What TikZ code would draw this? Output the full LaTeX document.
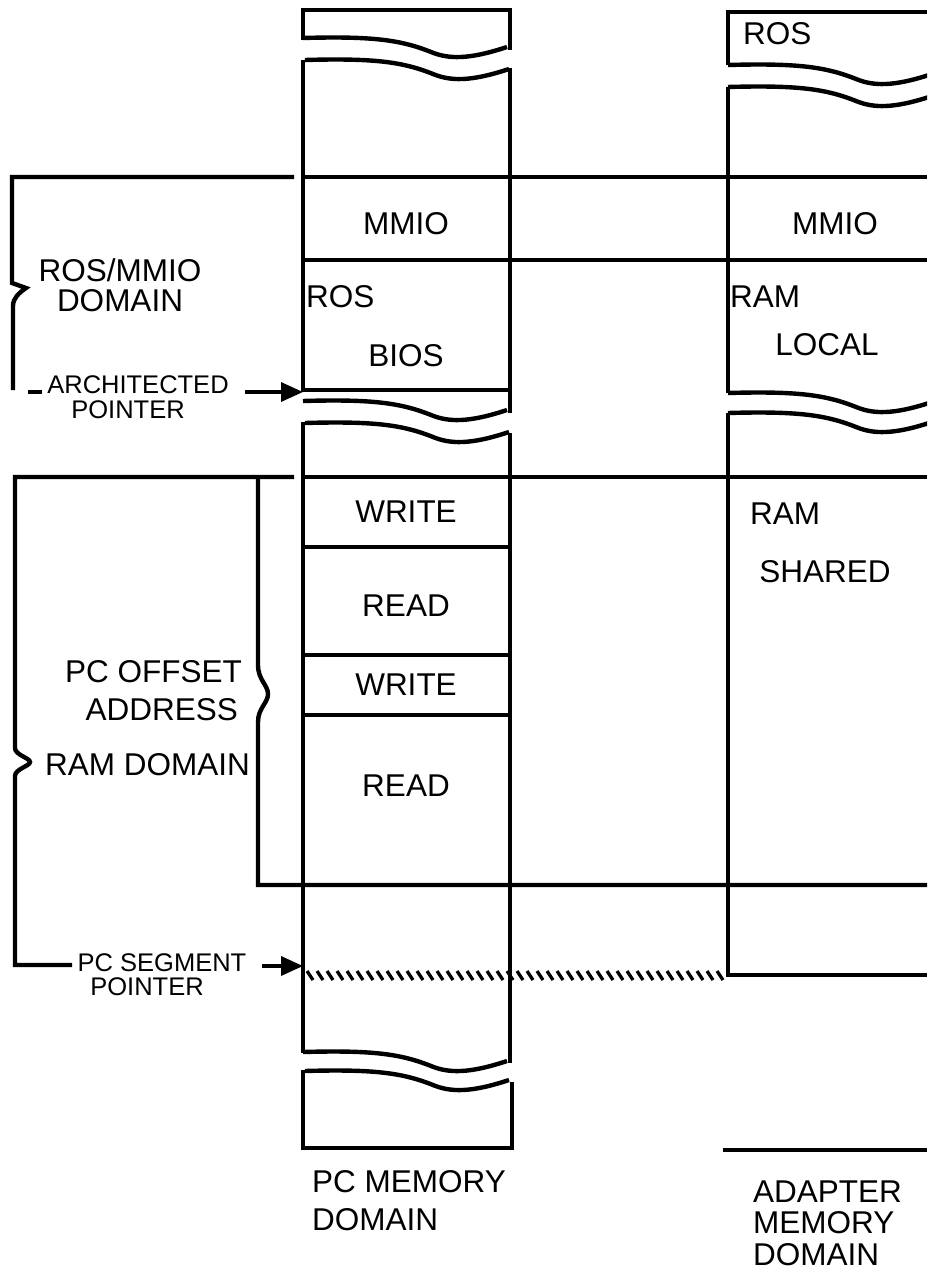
\documentclass[tikz,border=0pt]{standalone}
\usepackage{fontspec}
\setmainfont{Liberation Sans}
\usetikzlibrary{arrows.meta}
\tikzset{
  ln/.style={line width=4.4pt},
  big/.style={font=\fontsize{31.5}{36}\selectfont, inner sep=0pt},
  sml/.style={font=\fontsize{25.5}{30}\selectfont, inner sep=0pt},
  ptr/.style={line width=3.4pt, -{Triangle[length=22pt,width=19pt]}},
  hatch/.style={line width=3.2pt},
  brk/.pic={\draw[line width=4.4pt] (0,0) .. controls (70,-2) and (98,2) .. (128,14) .. controls (145,21) and (165,22) .. (204,9);}
}
\begin{document}
\begin{tikzpicture}[x=1pt,y=-1pt,line join=miter]
\useasboundingbox (0,0) rectangle (927,1273);
\clip (0,0) rectangle (927,1273);

% ---------- PC memory column ----------
\draw[ln] (303,40) -- (303,10) -- (510,10) -- (510,50);
\pic at (303,38) {brk};
\pic at (305,60) {brk};
\draw[ln] (303,60) -- (303,392);
\draw[ln] (510,68) -- (510,413);
\draw[ln] (303,390) -- (510,390);
\pic at (303,401) {brk};
\pic at (305,423) {brk};
\draw[ln] (303,422) -- (303,1053);
\draw[ln] (510,433) -- (510,1063);
\pic at (303,1052) {brk};
\pic at (305,1071) {brk};
\draw[ln] (303,1070) -- (303,1148) -- (512,1148) -- (512,1082);

% rows
\draw[ln] (303,547) -- (510,547);
\draw[ln] (303,655) -- (510,655);
\draw[ln] (303,715) -- (510,715);

% ---------- adapter memory column ----------
\draw[ln] (728,65) -- (728,12) -- (927,12);
\pic at (728,65) {brk};
\pic at (728,87) {brk};
\draw[ln] (728,87) -- (728,393);
\pic at (728,393) {brk};
\pic at (728,413) {brk};
\draw[ln] (728,413) -- (728,975) -- (927,975);
\draw[ln] (723,1150) -- (927,1150);

% ---------- horizontal domain lines ----------
\draw[ln] (303,177) -- (927,177);
\draw[ln] (303,260) -- (927,260);
\draw[ln] (303,477) -- (927,477);

% ROS/MMIO bracket
\draw[ln] (294,177) -- (12,177) -- (12,283) -- (26,288)
  .. controls (19,293) and (13,298) .. (13,306) -- (13,390);
\draw[ln] (28,392) -- (42,392);

% RAM domain bracket
\draw[ln] (294,477) -- (15,477) -- (15,748)
  .. controls (15,755) and (30,758) .. (30,762)
  .. controls (30,766) and (15,769) .. (15,776) -- (15,965) -- (72,965);

% PC offset bracket
\draw[ln] (258,477) -- (258,665)
  .. controls (258,680) and (268,685) .. (268,694)
  .. controls (268,703) and (258,708) .. (258,722) -- (258,885) -- (927,885);

% PC segment pointer hatch
\foreach \hx in {307,317,...,717} \draw[hatch] (\hx,971) -- (\hx+6,980);

% ---------- pointers ----------
\coordinate (archtail) at (245,392);
\coordinate (archtip) at (303,392);
\draw[ptr] (archtail) -- (archtip);
\coordinate (segtail) at (262,966);
\coordinate (segtip) at (303,966);
\draw[ptr] (segtail) -- (segtip);

% ---------- texts ----------
\node[big, anchor=base west] (rosA) at (743,45) {ROS};
\node[big, anchor=base] (mmioP) at (406,235) {MMIO};
\node[big, anchor=base] (mmioA) at (835,235) {MMIO};
\node[big, anchor=base] (rmd1) at (120,281) {ROS/MMIO};
\node[big, anchor=base] (rmd2) at (120,311) {DOMAIN};
\node[big, anchor=base west] (rosP) at (306,307) {ROS};
\node[big, anchor=base] (bios) at (406,366) {BIOS};
\node[big, anchor=base west] (ramL) at (730,307) {RAM};
\node[big, anchor=base] (local) at (827,355) {LOCAL};
\node[sml, anchor=base] (arch) at (138,393) {ARCHITECTED};
\node[sml, anchor=base] (archp) at (128,418) {POINTER};
\node[big, anchor=base] (w1) at (406,522) {WRITE};
\node[big, anchor=base] (r1) at (406,616) {READ};
\node[big, anchor=base] (w2) at (406,695) {WRITE};
\node[big, anchor=base] (r2) at (406,796) {READ};
\node[big, anchor=base west] (ramS) at (750,524) {RAM};
\node[big, anchor=base] (shared) at (825,582) {SHARED};
\node[big, anchor=base east] (pco1) at (242,682) {PC OFFSET};
\node[big, anchor=base east] (pco2) at (238,720) {ADDRESS};
\node[big, anchor=base east] (ramd) at (250,775) {RAM DOMAIN};
\node[sml, anchor=base] (seg) at (162,971) {PC SEGMENT};
\node[sml, anchor=base] (segp) at (147,995) {POINTER};
\node[big, anchor=base west] (pcm1) at (312,1192) {PC MEMORY};
\node[big, anchor=base west] (pcm2) at (312,1230) {DOMAIN};
\node[big, anchor=base west] (adm1) at (753,1202) {ADAPTER};
\node[big, anchor=base west] (adm2) at (753,1233) {MEMORY};
\node[big, anchor=base west] (adm3) at (753,1265) {DOMAIN};
\end{tikzpicture}
\end{document}
